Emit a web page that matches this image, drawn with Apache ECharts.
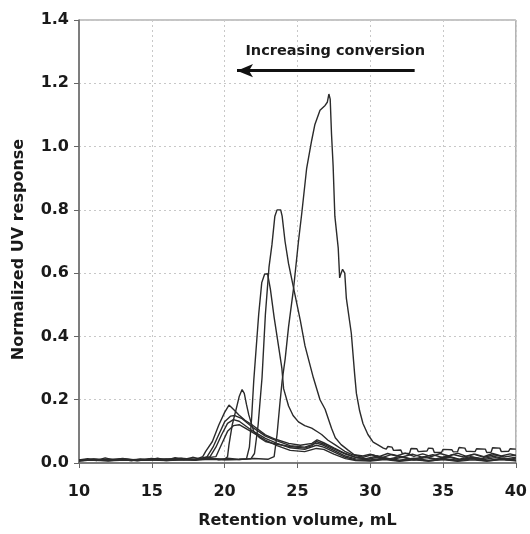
<!DOCTYPE html>
<html lang="en">
<head>
    <meta charset="UTF-8">
    <title>SEC traces</title>
    <script type="text/javascript" src="https://cdn.jsdelivr.net/npm/echarts@6/dist/echarts.min.js"></script>
    <style>
        html, body { margin: 0; padding: 0; background: #fff; }
        #container { width: 530px; height: 534px; }
    </style>
</head>
<body>
<div id="container"></div>
<script type="text/javascript">
    // axis ticks
    var xTicks = [10, 15, 20, 25, 30, 35, 40];
    var yTicks = [0, 0.2, 0.4, 0.6, 0.8, 1.0, 1.2, 1.4];

    // traces, [retention volume, response]
    var curveA = [[10,0.010],[10.6,0.014],[11.2,0.008],[11.8,0.016],[12.4,0.009],[13,0.012],[13.6,0.007],[14.2,0.013],[14.8,0.010],[15.4,0.015],
        [16,0.009],[16.6,0.017],[17.2,0.011],[17.8,0.018],[18.4,0.012],[19,0.016],[19.6,0.010],[20.2,0.015],[21,0.011],[22,0.014],[23,0.012],
        [23.4,0.02],[23.6,0.09],[23.8,0.19],[23.95,0.26],[24.16,0.33],[24.39,0.43],[24.73,0.55],[25.07,0.70],[25.3,0.79],[25.63,0.93],
        [25.98,1.02],[26.2,1.07],[26.55,1.115],[26.9,1.13],[27.05,1.14],[27.16,1.166],[27.25,1.15],[27.34,1.04],[27.45,0.94],[27.57,0.78],
        [27.8,0.68],[27.9,0.585],[28.0,0.60],[28.1,0.612],[28.25,0.60],[28.36,0.52],[28.7,0.41],[28.93,0.28],[29.05,0.22],[29.27,0.165],
        [29.5,0.125],[29.84,0.09],[30.2,0.066],[30.5,0.058],[30.9,0.047],[31.1,0.044],[31.2,0.052],[31.5,0.050],[31.6,0.040],[32.1,0.041],
        [32.2,0.030],[32.7,0.031],[32.8,0.046],[33.2,0.045],[33.3,0.036],[33.9,0.038],[34.0,0.047],[34.3,0.046],[34.4,0.033],[34.9,0.034],
        [35.0,0.043],[35.6,0.042],[35.7,0.035],[36.0,0.036],[36.1,0.049],[36.5,0.047],[36.6,0.037],[37.2,0.036],[37.3,0.045],[37.9,0.044],
        [38.0,0.033],[38.3,0.034],[38.4,0.048],[38.9,0.047],[39.0,0.036],[39.5,0.037],[39.6,0.045],[40,0.044]];

    var curveB = [[10,0.008],[11,0.012],[12,0.009],[13,0.013],[14,0.008],[15,0.011],[16,0.010],[17,0.014],[18,0.010],[19,0.013],[20,0.011],
        [21,0.012],[21.8,0.013],[22.05,0.03],[22.3,0.12],[22.57,0.27],[22.8,0.47],[23.05,0.62],[23.25,0.69],[23.45,0.78],[23.6,0.80],
        [23.85,0.80],[23.95,0.78],[24.15,0.70],[24.39,0.63],[24.84,0.53],[25.2,0.45],[25.52,0.37],[26.09,0.27],[26.55,0.20],[26.9,0.17],
        [27.34,0.11],[27.6,0.08],[28.0,0.058],[28.5,0.04],[28.9,0.026],[29.5,0.022],[30,0.028],[30.6,0.020],[31.2,0.030],[31.8,0.022],
        [32.4,0.031],[33,0.021],[33.6,0.029],[34.2,0.020],[34.8,0.030],[35.4,0.022],[36,0.031],[36.6,0.021],[37.2,0.028],[37.8,0.020],
        [38.4,0.030],[39,0.022],[39.6,0.029],[40,0.024]];

    var curveC = [[10,0.006],[11,0.010],[12,0.007],[13,0.011],[14,0.008],[15,0.012],[16,0.008],[17,0.011],[18,0.009],[19,0.012],[20,0.010],
        [21,0.011],[21.5,0.013],[21.7,0.05],[21.85,0.14],[22.0,0.26],[22.34,0.47],[22.55,0.57],[22.75,0.597],[22.95,0.598],[23.14,0.55],
        [23.4,0.46],[23.7,0.37],[23.93,0.30],[24.05,0.235],[24.39,0.18],[24.7,0.15],[25.07,0.13],[25.5,0.118],[25.98,0.11],[26.4,0.098],
        [26.66,0.09],[27.1,0.072],[27.57,0.058],[28.25,0.037],[28.8,0.026],[29.5,0.018],[30.1,0.026],[30.8,0.017],[31.5,0.027],[32.2,0.019],
        [32.9,0.028],[33.6,0.018],[34.3,0.026],[35,0.017],[35.7,0.027],[36.4,0.019],[37.1,0.028],[37.8,0.018],[38.5,0.026],[39.2,0.019],[40,0.025]];

    var curveD = [[10,0.009],[11,0.013],[12,0.008],[13,0.012],[14,0.010],[15,0.014],[16,0.009],[17,0.013],[18,0.011],[19,0.014],[20,0.012],
        [20.2,0.02],[20.3,0.058],[20.52,0.12],[20.86,0.183],[21.0,0.21],[21.2,0.232],[21.35,0.22],[21.5,0.185],[21.66,0.152],[22.0,0.10],
        [22.4,0.08],[22.8,0.068],[23.5,0.06],[24.5,0.052],[25.5,0.047],[26.0,0.055],[26.3,0.068],[26.8,0.06],[27.5,0.045],[28.3,0.028],
        [29,0.018],[29.7,0.014],[30.5,0.022],[31.3,0.013],[32.1,0.021],[32.9,0.012],[33.7,0.020],[34.5,0.013],[35.3,0.022],[36.1,0.012],
        [36.9,0.020],[37.7,0.014],[38.5,0.021],[39.3,0.013],[40,0.018]];

    var curveE = [[10,0.007],[11,0.011],[12,0.010],[13,0.014],[14,0.009],[15,0.012],[16,0.011],[17,0.015],[18,0.011],[18.5,0.02],
        [18.7,0.037],[19.16,0.068],[19.6,0.12],[20.0,0.16],[20.3,0.183],[20.6,0.17],[20.98,0.152],[21.4,0.135],[21.9,0.12],[22.8,0.089],
        [23.5,0.075],[24.4,0.062],[25.2,0.056],[26.0,0.062],[26.35,0.073],[26.8,0.064],[27.5,0.048],[28.3,0.03],[29,0.018],[29.8,0.012],
        [30.6,0.019],[31.4,0.011],[32.2,0.018],[33,0.010],[33.8,0.017],[34.6,0.011],[35.4,0.019],[36.2,0.010],[37,0.018],[37.8,0.011],
        [38.6,0.017],[39.4,0.010],[40,0.015]];

    var curveF = [[10,0.008],[12,0.011],[14,0.009],[16,0.012],[18,0.010],[18.8,0.02],[19.2,0.05],[19.6,0.09],[20.0,0.13],[20.4,0.148],
        [20.7,0.15],[21.2,0.14],[22,0.11],[22.8,0.085],[23.6,0.07],[24.5,0.055],[25.5,0.05],[26.3,0.063],[26.8,0.056],[27.5,0.04],
        [28.3,0.022],[29,0.013],[30,0.010],[31,0.016],[32,0.009],[33,0.015],[34,0.008],[35,0.014],[36,0.009],[37,0.015],[38,0.008],[39,0.014],[40,0.010]];

    var curveG = [[10,0.009],[12,0.012],[14,0.008],[16,0.013],[18,0.009],[19.0,0.02],[19.4,0.05],[19.8,0.09],[20.2,0.125],[20.6,0.137],
        [21.0,0.132],[21.8,0.105],[22.8,0.078],[23.6,0.062],[24.5,0.048],[25.5,0.043],[26.3,0.056],[26.8,0.05],[27.5,0.035],[28.3,0.018],
        [29,0.010],[30,0.008],[31,0.013],[32,0.007],[33,0.012],[34,0.006],[35,0.012],[36,0.007],[37,0.013],[38,0.006],[39,0.012],[40,0.008]];

    var curveH = [[10,0.010],[12,0.007],[14,0.011],[16,0.008],[18,0.012],[19.4,0.02],[19.8,0.06],[20.2,0.10],[20.6,0.118],[21.0,0.121],
        [21.8,0.10],[22.8,0.072],[23.6,0.055],[24.5,0.04],[25.5,0.036],[26.3,0.046],[26.8,0.043],[27.5,0.028],[28.3,0.014],[29,0.008],
        [30,0.006],[31,0.011],[32,0.005],[33,0.010],[34,0.006],[35,0.011],[36,0.005],[37,0.010],[38,0.006],[39,0.011],[40,0.007]];

    var traces = [curveA, curveB, curveC, curveD, curveE, curveF, curveG, curveH];

    // arrow annotation: tail and head in data units, label position
    var arrowFrom = [33.05, 1.24];
    var arrowTo = [20.85, 1.24];
    var noteText = 'Increasing conversion';
    var notePos = [27.6, 1.30];

    var font = 'DejaVu Sans';

    var dom = document.getElementById('container');
    var myChart = echarts.init(dom, null, {renderer: 'canvas'});

    var series = traces.map(function (d) {
        return {
            type: 'line',
            data: d,
            showSymbol: false,
            smooth: false,
            lineStyle: {color: '#2b2b2b', width: 1.4},
            silent: true,
            z: 3
        };
    });

    series.push({
        type: 'line',
        data: [],
        markLine: {
            silent: true,
            symbol: ['none', 'arrow'],
            symbolSize: [10, 16],
            label: {show: false},
            lineStyle: {color: '#111', width: 3, type: 'solid'},
            data: [[{coord: arrowFrom}, {coord: arrowTo}]]
        }
    });

    var option = {
        animation: false,
        backgroundColor: '#fff',
        grid: {
            left: 79, right: 11, top: 20, bottom: 69,
            show: true, borderColor: '#8a8a8a', borderWidth: 1
        },
        xAxis: {
            type: 'value',
            min: 10, max: 40, interval: 5,
            name: 'Retention volume, mL',
            nameLocation: 'middle',
            nameGap: 50,
            nameTextStyle: {fontFamily: font, fontWeight: 'bold', fontSize: 16, color: '#1a1a1a'},
            axisLine: {show: true, onZero: false, lineStyle: {color: '#666', width: 1.5}},
            axisTick: {show: true, inside: false, length: 5, lineStyle: {color: '#666'}},
            axisLabel: {
                margin: 21, fontFamily: font, fontWeight: 'bold', fontSize: 16, color: '#1a1a1a',
                formatter: function (v) { return xTicks.indexOf(v) >= 0 ? String(v) : ''; }
            },
            splitLine: {show: true, lineStyle: {color: '#c8c8c8', type: [2, 3], width: 1}}
        },
        yAxis: {
            type: 'value',
            min: 0, max: 1.4, interval: 0.2,
            name: 'Normalized UV response',
            nameLocation: 'middle',
            nameGap: 52,
            nameTextStyle: {fontFamily: font, fontWeight: 'bold', fontSize: 16, color: '#1a1a1a', padding: [0, 16, 0, 0]},
            axisLine: {show: true, lineStyle: {color: '#666', width: 1.5}},
            axisTick: {show: true, inside: false, length: 5, lineStyle: {color: '#666'}},
            axisLabel: {
                margin: 10, fontFamily: font, fontWeight: 'bold', fontSize: 16, color: '#1a1a1a',
                formatter: function (v) {
                    var t = Math.round(v * 10) / 10;
                    return yTicks.indexOf(t) >= 0 ? t.toFixed(1) : '';
                }
            },
            splitLine: {show: true, lineStyle: {color: '#c8c8c8', type: [2, 3], width: 1}}
        },
        series: series
    };

    myChart.setOption(option);

    var p = myChart.convertToPixel({gridIndex: 0}, notePos);
    myChart.setOption({
        graphic: [{
            type: 'text',
            x: p[0], y: p[1],
            style: {
                text: noteText,
                fill: '#1a1a1a',
                font: 'bold 14.5px "DejaVu Sans"',
                textAlign: 'center',
                textVerticalAlign: 'middle'
            }
        }]
    });
</script>
</body>
</html>
